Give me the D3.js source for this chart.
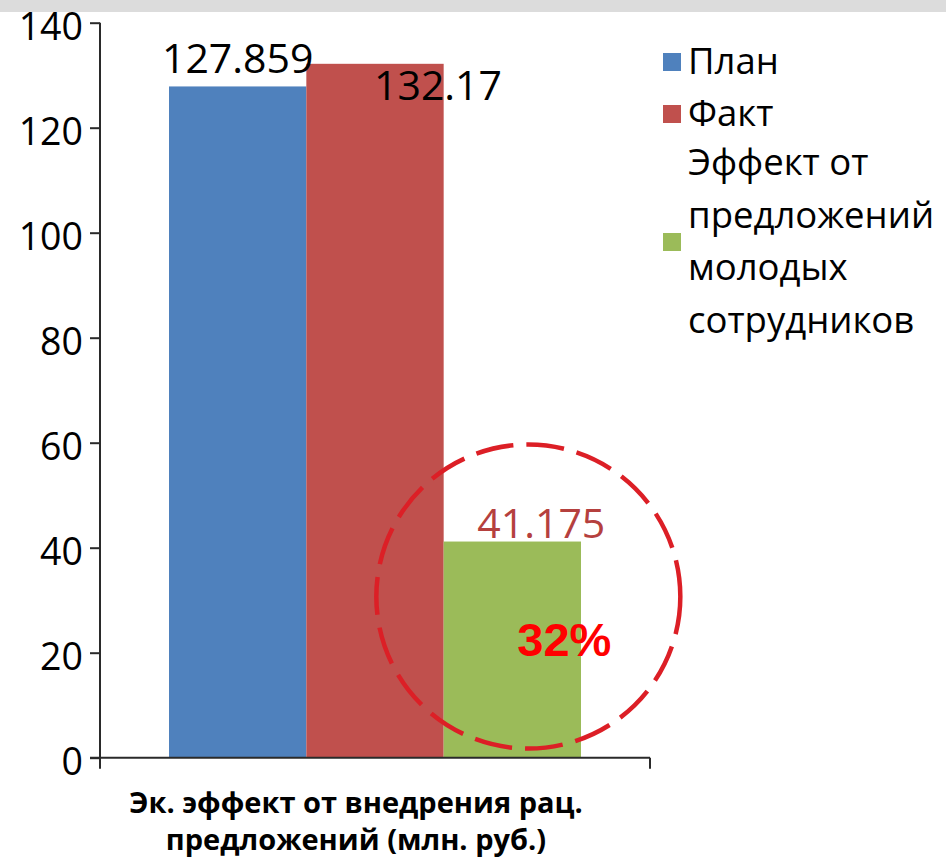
<!DOCTYPE html>
<html>
<head>
<meta charset="utf-8">
<script src="https://cdn.jsdelivr.net/npm/d3@7"></script>
<style>
  html, body { margin: 0; padding: 0; background: #fff; }
  svg { display: block; }
</style>
</head>
<body>
<div id="chart"></div>
<script>
// Economic effect of rationalization proposals, mln roubles
const category = ["Эк. эффект от внедрения рац. предложений (млн. руб.)"];
const categoryLines = ["Эк. эффект от внедрения рац.", "предложений (млн. руб.)"];
const seriesNames = ["План", "Факт", "Эффект от предложений молодых сотрудников"];
const legendLines = [["План"], ["Факт"], ["Эффект от", "предложений", "молодых", "сотрудников"]];
const seriesValues = [127.859, 132.17, 41.175];
const seriesColors = ["#4f81bd", "#c0504d", "#9bbb59"];
const yTicks = [0, 20, 40, 60, 80, 100, 120, 140];
const shareLabel = "32%";

const W = 946, H = 859;
const svg = d3.select("#chart").append("svg").attr("width", W).attr("height", H);

// top strip
svg.append("rect").attr("x", 0).attr("y", 0).attr("width", W).attr("height", 12).attr("fill", "#dcdcdc");

const plot = { left: 100, right: 650, top: 22.7, bottom: 757.7 };

const y = d3.scaleLinear().domain([0, 140]).range([plot.bottom, plot.top]);
const x0 = d3.scaleBand().domain(category).range([plot.left, plot.right])
  .paddingInner(0).paddingOuter(0.1675);
const x1 = d3.scaleBand().domain(seriesNames).range([0, x0.bandwidth()]).padding(0);

const font = "'Open Sans', sans-serif";
const axisColor = "#2a2a2a";

// bars
const g = svg.append("g").attr("transform", `translate(${x0(category[0])},0)`);
g.selectAll("rect.bar").data(seriesNames).join("rect")
  .attr("class", "bar")
  .attr("x", d => x1(d))
  .attr("y", (d, i) => y(seriesValues[i]))
  .attr("width", x1.bandwidth())
  .attr("height", (d, i) => y(0) - y(seriesValues[i]))
  .attr("fill", (d, i) => seriesColors[i]);

// value labels
const labelOffsets = [{ dx: 0, dy: -13 }, { dx: 63, dy: 36 }, { dx: 29, dy: -4 }];
const labelColors = ["#000", "#000", "#b5403e"];
g.selectAll("text.val").data(seriesNames).join("text")
  .attr("class", "val")
  .attr("x", (d, i) => x1(d) + x1.bandwidth() / 2 + labelOffsets[i].dx)
  .attr("y", (d, i) => y(seriesValues[i]) + labelOffsets[i].dy)
  .attr("text-anchor", "middle")
  .attr("font-family", font)
  .attr("font-size", 41)
  .attr("fill", (d, i) => labelColors[i])
  .text((d, i) => String(seriesValues[i]));

// y axis
const yAxis = d3.axisLeft(y).tickValues(yTicks).tickSize(10).tickPadding(7).tickFormat(d3.format("d"));
const ya = svg.append("g").attr("transform", `translate(${plot.left},0)`).call(yAxis);
ya.select(".domain").remove();
ya.selectAll(".tick line").attr("stroke", axisColor).attr("stroke-width", 2);
ya.selectAll(".tick text").attr("font-family", font).attr("font-size", 37.5).attr("fill", "#000")
  .attr("dy", "0.44em");
ya.append("line").attr("x1", 0).attr("x2", 0).attr("y1", plot.top).attr("y2", plot.bottom + 11)
  .attr("stroke", axisColor).attr("stroke-width", 2);

// x axis
svg.append("line").attr("x1", plot.left - 10).attr("x2", plot.right).attr("y1", plot.bottom).attr("y2", plot.bottom)
  .attr("stroke", axisColor).attr("stroke-width", 2);
svg.append("line").attr("x1", plot.right).attr("x2", plot.right).attr("y1", plot.bottom).attr("y2", plot.bottom + 11)
  .attr("stroke", axisColor).attr("stroke-width", 2);

// category label
svg.append("text").attr("y", 813)
  .attr("text-anchor", "middle").attr("font-family", font).attr("font-weight", "bold").attr("font-size", 29)
  .selectAll("tspan").data(categoryLines).join("tspan")
  .attr("x", (plot.left + plot.right) / 2 - 19).attr("dy", (d, i) => i === 0 ? 0 : 37).text(d => d);

// legend
const legend = svg.append("g").attr("transform", "translate(663,0)");
const legendY = [62, 114, 242];
legendLines.forEach((lines, i) => {
  legend.append("rect").attr("x", 0).attr("y", legendY[i] - 9).attr("width", 18).attr("height", 18)
    .attr("fill", seriesColors[i]);
  const n = lines.length;
  lines.forEach((t, j) => {
    legend.append("text").attr("x", 25).attr("y", legendY[i] + (j - (n - 1) / 2) * 52.5 + 12)
      .attr("font-family", font).attr("font-size", 36.5).attr("fill", "#000").text(t);
  });
});

// highlight of the young staff share
const gx = x0(category[0]) + x1(seriesNames[2]) + x1.bandwidth() / 2;
svg.append("circle").attr("cx", gx + 16).attr("cy", y(30.7)).attr("r", 152)
  .attr("fill", "none").attr("stroke", "#dc1f26").attr("stroke-width", 4.5)
  .attr("stroke-dasharray", "38 13");
svg.append("text").attr("x", gx + 52).attr("y", y(19.3))
  .attr("text-anchor", "middle").attr("font-family", "'Liberation Sans', Arial, sans-serif")
  .attr("font-weight", "bold").attr("font-size", 47).attr("fill", "#ff0000").text(shareLabel);
</script>
</body>
</html>
